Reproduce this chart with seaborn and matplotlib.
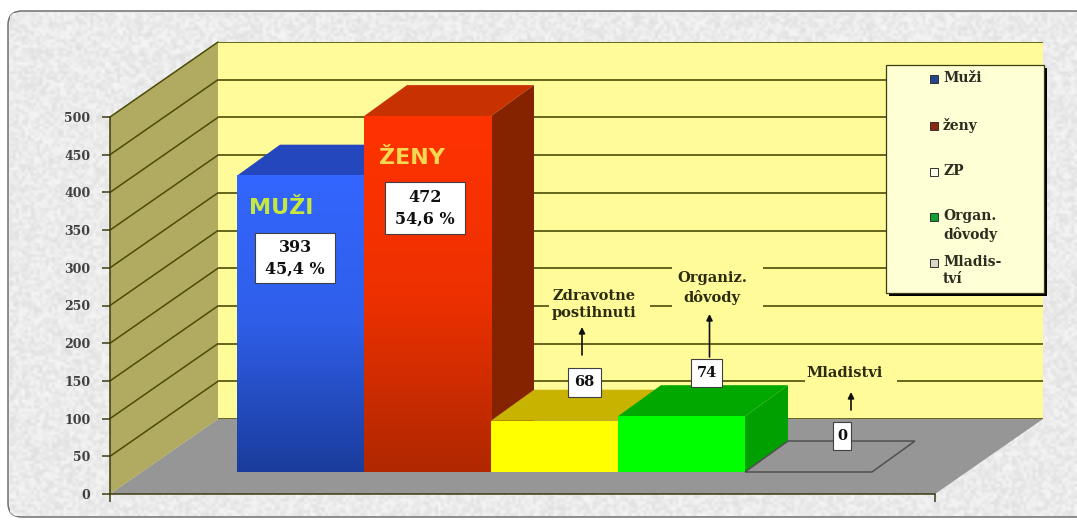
import numpy as np
import pandas as pd
import seaborn as sns
import matplotlib.pyplot as plt
from matplotlib.colors import LinearSegmentedColormap
from matplotlib.patches import FancyBboxPatch, Polygon, Rectangle

sns.set_theme(style='white')
plt.rcParams['font.family'] = ['DejaVu Serif', 'Liberation Serif']

# data
categories = ['Muži', 'ženy', 'ZP', 'Organ. dôvody', 'Mladiství']
values = [393, 472, 68, 74, 0]
y_ticks = [0, 50, 100, 150, 200, 250, 300, 350, 400, 450, 500]
legend_labels = ['Muži', 'ženy', 'ZP', 'Organ.\ndôvody', 'Mladis-\ntví']
legend_colors = ['#24468f', '#8a2a12', '#fffff0', '#12a032', '#d8d8c8']

front_colors = ['#2f5ff0', '#f03000', '#ffff00', '#00ff00', '#969696']
top_colors = ['#2447bd', '#c83200', '#c8b400', '#00a800', '#969696']
side_colors = ['#1c3a90', '#852200', '#a09000', '#00a000', '#969696']

W, H = 1077, 521
WALL_YELLOW = '#fffb99'
fig = plt.figure(figsize=(W / 100, H / 100), dpi=100, facecolor='white')


def px_rect(left, top, right, bottom):
    return [left / W, 1 - bottom / H, (right - left) / W, (bottom - top) / H]


# panel + side wall + floor, in pixels
bg = fig.add_axes([0, 0, 1, 1], zorder=0)
bg.set_xlim(0, W)
bg.set_ylim(H, 0)
bg.axis('off')

# the panel runs off the right side of the picture
panel = FancyBboxPatch((16, 19), 1090, 490, boxstyle='round,pad=8,rounding_size=14',
                       fc='#ececec', ec='#707070', lw=1.1, zorder=1)
bg.add_patch(panel)
yy, xx = np.mgrid[0:H // 3, 0:W // 3]
grain = np.sin(xx * 12.9898 + yy * 78.233) * 43758.5453
grain = grain - np.floor(grain)
img = bg.imshow(grain, cmap=LinearSegmentedColormap.from_list('g', ['#e0e0e0', '#f6f6f6']),
                extent=(10, W, 516, 13), aspect='auto', zorder=1.5, interpolation='bilinear')
img.set_clip_path(panel)
bg.set_xlim(0, W)
bg.set_ylim(H, 0)

FX0, FX1, FY0, FY500 = 110, 935, 494, 117
DX, DY = 108, 75
scale = (FY0 - FY500) / 500

bg.add_patch(Polygon([(FX0, FY0), (FX1, FY0), (FX1 + DX, FY0 - DY), (FX0 + DX, FY0 - DY)],
                     fc='#969696', ec='none', zorder=2))
bg.add_patch(Polygon([(FX0, FY0), (FX0 + DX, FY0 - DY), (FX0 + DX, FY500 - DY), (FX0, FY500)],
                     fc='#b0ab60', ec='none', zorder=2))
for v in y_ticks[1:]:
    y = FY0 - v * scale
    bg.plot([FX0, FX0 + DX], [y, y - DY], color='#4c4c08', lw=1.1, zorder=3)

# back wall
wall = fig.add_axes(px_rect(FX0 + DX, FY500 - DY, FX1 + DX, FY0 - DY), zorder=1, facecolor=WALL_YELLOW)
wall.set_ylim(0, 500)
wall.set_xticks([])
wall.set_yticks(y_ticks)
wall.tick_params(left=False, labelleft=False)
wall.grid(axis='y', color='#4c4c08', lw=1.2)
for s in wall.spines.values():
    s.set_visible(False)

# front value axis
front = fig.add_axes(px_rect(FX0, FY500, FX1, FY0), zorder=2, facecolor='none')
front.set_ylim(0, 500)
front.set_xlim(0, 1)
front.set_yticks(y_ticks)
front.set_xticks([0, 1])
front.set_xticklabels([])
front.tick_params(axis='both', length=6, width=1.1, color='#3c3c10', pad=8, bottom=True, left=True)
front.set_yticklabels([str(t) for t in y_ticks], fontsize=9, fontweight='bold', color='#404040')
for name, s in front.spines.items():
    s.set_visible(name in ('left', 'bottom'))
    s.set_color('#3c3c10')
    s.set_linewidth(1.1)

# bars
BAR_L, BAR_R, BAR_Y0 = 237, 872, 472
ax = fig.add_axes(px_rect(BAR_L, BAR_Y0 - 500 * scale, BAR_R, BAR_Y0), zorder=3, facecolor='none')
df = pd.DataFrame({'category': categories, 'value': values})
sns.barplot(data=df, x='category', y='value', hue='category', palette=front_colors,
            width=1, dodge=False, legend=False, saturation=1, linewidth=0, ax=ax)
ax.set_xlim(-0.5, 4.5)
ax.set_ylim(0, 500)
ax.axis('off')

unit_x = (BAR_R - BAR_L) / 5
ddx = 43 / unit_x
ddy = 31 / scale
gradients = {0: ['#3366ff', '#2f5ee8', '#1a3c9c'], 1: ['#ff3300', '#ee3000', '#b02800']}
for i, bar in enumerate(ax.patches[:len(values)]):
    x0, x1 = bar.get_x(), bar.get_x() + bar.get_width()
    h = bar.get_height()
    z = 2 + i * 2
    bar.set_zorder(z + 1)
    if h == 0:
        # empty category: only the outline of the base
        ax.add_patch(Polygon([(x0, 0), (x1, 0), (x1 + ddx, ddy), (x0 + ddx, ddy)], closed=True,
                             fc='none', ec='#505050', lw=1.1, clip_on=False, zorder=z))
        continue
    ax.add_patch(Polygon([(x0, h), (x1, h), (x1 + ddx, h + ddy), (x0 + ddx, h + ddy)],
                         fc=top_colors[i], ec='none', clip_on=False, zorder=z))
    ax.add_patch(Polygon([(x1, 0), (x1 + ddx, ddy), (x1 + ddx, h + ddy), (x1, h)],
                         fc=side_colors[i], ec='none', clip_on=False, zorder=z))
    if i in gradients:
        cm = LinearSegmentedColormap.from_list('f%d' % i, gradients[i])
        ax.imshow(np.linspace(0, 1, 128)[:, None], cmap=cm, extent=(x0, x1, 0, h),
                  aspect='auto', zorder=z + 1.5)
ax.set_xlim(-0.5, 4.5)
ax.set_ylim(0, 500)

# labels over everything, in pixels
over = fig.add_axes([0, 0, 1, 1], zorder=4, facecolor='none')
over.set_xlim(0, W)
over.set_ylim(H, 0)
over.axis('off')

for x, y, t, c in [(281, 208, 'MUŽI', '#c6e83c'), (412, 158, 'ŽENY', '#f4d850')]:
    over.text(x, y, t, ha='center', va='center', fontsize=16, fontweight='bold', color=c,
              family='DejaVu Sans')


def value_box(left, top, right, bottom, text, size=11.5, spacing=1.35):
    over.add_patch(Rectangle((left, top), right - left, bottom - top, fc='white', ec='#404040', lw=0.8))
    over.text((left + right) / 2, (top + bottom) / 2, text, ha='center', va='center',
              fontsize=size, fontweight='bold', color='#101010', linespacing=spacing)


value_box(255, 233, 335, 283, '393\n45,4 %')
value_box(385, 182, 465, 234, '472\n54,6 %')
value_box(568, 368, 601, 397, '68', size=10.5)
value_box(691, 359, 722, 387, '74', size=10.5)
value_box(833, 422, 851, 450, '0', size=10.5)

# gaps in the grid lines behind the captions
for left, top, right, bottom in [(549, 286, 650, 326), (672, 262, 763, 312), (805, 370, 897, 392)]:
    over.add_patch(Rectangle((left, top), right - left, bottom - top, fc=WALL_YELLOW, ec='none'))

for x, y, t in [(594, 304.5, 'Zdravotne\npostihnuti'), (712, 288, 'Organiz.\ndôvody'), (845, 373, 'Mladistvi')]:
    over.text(x, y, t, ha='center', va='center', fontsize=10.5, fontweight='bold', color='#2c2c10',
              linespacing=1.35)

for x, y0, y1 in [(582, 355, 327), (709.5, 357, 314), (851, 410, 392)]:
    over.annotate('', xy=(x, y1), xytext=(x, y0),
                  arrowprops=dict(arrowstyle='-|>', color='#101010', lw=1.2, mutation_scale=9,
                                  shrinkA=0, shrinkB=0))

# legend box
over.add_patch(Rectangle((889, 68), 158, 228, fc='black', ec='none'))
over.add_patch(Rectangle((886, 65), 158, 228, fc='#ffffd6', ec='#3c3c10', lw=0.9))
legend_y = [79, 126, 172, 217, 263]
for label, color, y in zip(legend_labels, legend_colors, legend_y):
    over.add_patch(Rectangle((930, y - 4), 8, 8, fc=color, ec='#303030', lw=0.7))
    over.text(943, y - 8, label, ha='left', va='top', fontsize=10, fontweight='bold',
              color='#2c2c20', linespacing=1.3)

fig.savefig('out.png', dpi=100)
